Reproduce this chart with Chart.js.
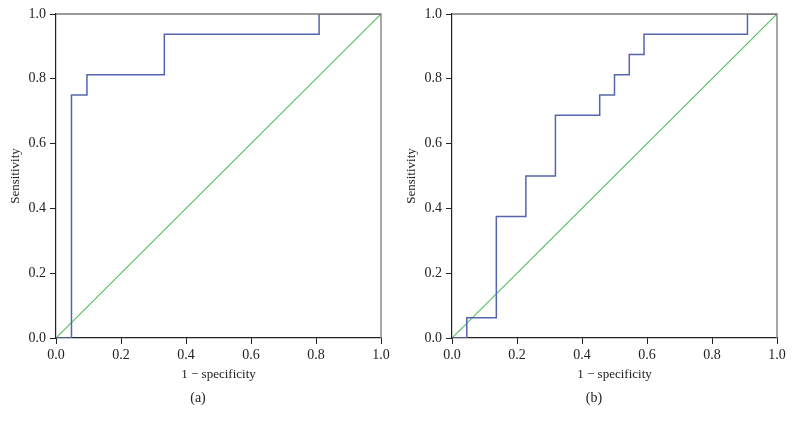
<!DOCTYPE html>
<html><head><meta charset="utf-8">
<script src="https://cdn.jsdelivr.net/npm/chart.js@4.4.1/dist/chart.umd.min.js"></script>
<style>
html,body{margin:0;padding:0;background:#fff;}
#wrap{position:relative;width:792px;height:424px;overflow:hidden;}
.pane{position:absolute;top:0;width:396px;height:424px;}
.cap{position:absolute;top:390px;width:396px;text-align:center;font-family:"Liberation Serif",serif;font-size:14px;color:#222;}
</style></head>
<body><div id="wrap">
<div class="pane" style="left:0"><canvas id="ca" width="396" height="424"></canvas></div>
<div class="pane" style="left:396px"><canvas id="cb" width="396" height="424"></canvas></div>
<div class="cap" style="left:0">(a)</div>
<div class="cap" style="left:396px">(b)</div>
</div>
<script>
// Panel (a) ROC points (1 - specificity, sensitivity)
const fprA = [0, 0.0476, 0.0952, 0.3333, 0.8095, 1.0];
const tprA = [0, 0.75, 0.8125, 0.9375, 1.0, 1.0];
// Panel (b)
const fprB = [0, 0.0455, 0.1364, 0.2273, 0.3182, 0.4545, 0.5, 0.5455, 0.5909, 0.9091, 1.0];
const tprB = [0, 0.0625, 0.375, 0.5, 0.6875, 0.75, 0.8125, 0.875, 0.9375, 1.0, 1.0];
// Reference diagonal
const diagX = [0, 1];
const diagY = [0, 1];
const tickValues = [0, 0.2, 0.4, 0.6, 0.8, 1.0];
const xTitle = "1 \u2212 specificity";
const yTitle = "Sensitivity";

const FONT = "'Liberation Serif', 'DejaVu Serif', serif";
const frame = {
  id: 'frame',
  afterDatasetsDraw(chart){
    const a = chart.chartArea, c = chart.ctx;
    c.save();
    c.strokeStyle = '#7a7a7a'; c.lineWidth = 1.3;
    c.beginPath();
    c.moveTo(a.left, a.top); c.lineTo(a.right, a.top); c.lineTo(a.right, a.bottom);
    c.stroke();
    c.restore();
  }
};
function pts(xs, ys){ return xs.map((x,i)=>({x:x, y:ys[i]})); }
function make(id, xs, ys){
  const scaleCommon = (title, isY) => ({
    type:'linear', min:0, max:1,
    afterBuildTicks(s){ s.ticks = tickValues.map(v=>({value:v})); },
    ticks:{ color:'#222', font:{family:FONT, size:14}, padding:isY?4:3, callback:v=>v.toFixed(1), maxRotation:0 },
    grid:{ drawOnChartArea:false, drawTicks:true, tickLength:6, color:'#222', lineWidth:1 },
    border:{ display:true, color:'#222', width:1.2 },
    title:{ display:true, text:title, color:'#222', font:{family:FONT, size:13}, padding: isY ? {top:8,bottom:0} : {top:4,bottom:0} },
    afterFit(s){ if(isY){ s.width = 56; } else { s.height = 44; } }
  });
  new Chart(document.getElementById(id), {
    type:'scatter',
    data:{ datasets:[
      { data:pts(xs, ys), showLine:true, stepped:true, borderColor:'#5565ad', borderWidth:1.5, pointRadius:0, fill:false },
      { data:pts(diagX, diagY), showLine:true, borderColor:'#52be5e', borderWidth:1.1, pointRadius:0, fill:false }
    ]},
    options:{
      responsive:false, animation:false,
      layout:{ padding:{ left:0, right:15, top:14, bottom:42 } },
      plugins:{ legend:{display:false}, tooltip:{enabled:false} },
      scales:{ x: scaleCommon(xTitle, false), y: scaleCommon(yTitle, true) }
    },
    plugins:[frame]
  });
}
make('ca', fprA, tprA);
make('cb', fprB, tprB);
</script>
</body></html>
